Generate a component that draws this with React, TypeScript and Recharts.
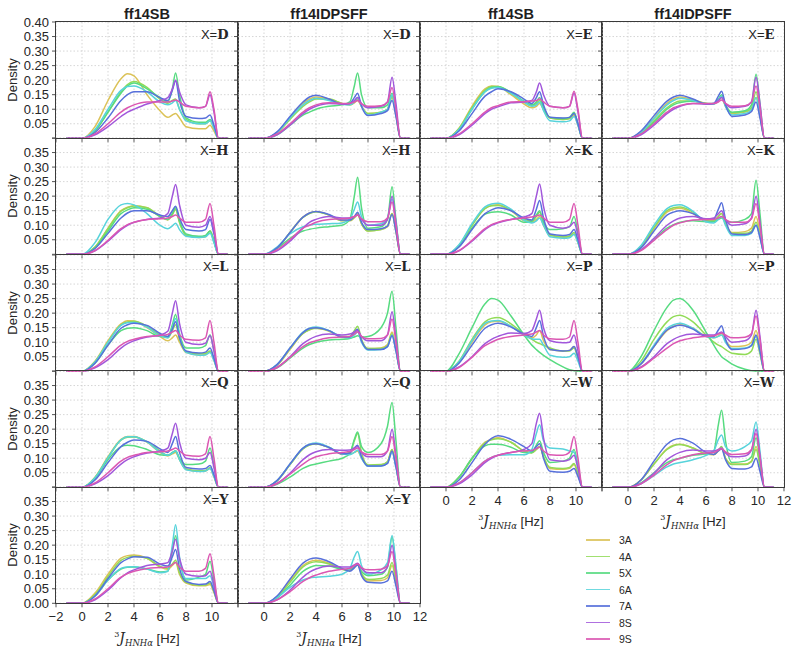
import React from 'react';
import { LineChart, Line, XAxis, YAxis, CartesianGrid } from 'recharts';

// ---------------------------------------------------------------------------
// Data: density of 3J(HNHa) sampled on a shared J grid (Hz)
// ---------------------------------------------------------------------------

const J_GRID = [-1.2, 0, 1, 2, 3, 3.5, 4, 5, 6, 6.6, 6.95, 7.2, 7.5, 8, 9, 9.5, 9.85, 10.15, 10.5, 11.2];

const SYSTEMS = ['3A', '4A', '5X', '6A', '7A', '8S', '9S'];
const SYSTEM_COLORS = ['#dbc257', '#91db57', '#57db80', '#57d3db', '#5770db', '#a157db', '#db57b2'];
const FORCE_FIELDS = ['ff14SB', 'ff14IDPSFF', 'ff14SB', 'ff14IDPSFF'];

const X_TICKS = [-2, 0, 2, 4, 6, 8, 10, 12];
const Y_TICKS = [0, 0.05, 0.1, 0.15, 0.2, 0.25, 0.3, 0.35, 0.4];

// one row per system, in SYSTEMS order
const SB_D = [
  [0, 0, .04, .13, .205, .222, .215, .15, .095, .072, .08, .085, .07, .04, .033, .033, .045, .025, 0, 0],
  [0, 0, .025, .09, .16, .185, .195, .175, .135, .12, .13, .135, .1, .065, .05, .05, .06, .035, 0, 0],
  [0, 0, .025, .09, .155, .18, .19, .17, .14, .125, .17, .225, .15, .07, .055, .055, .065, .04, 0, 0],
  [0, 0, .03, .1, .165, .178, .18, .16, .125, .115, .122, .13, .1, .06, .05, .05, .06, .035, 0, 0],
  [0, 0, .02, .07, .13, .15, .16, .16, .14, .13, .165, .198, .13, .075, .068, .07, .08, .045, 0, 0],
  [0, 0, .012, .04, .075, .09, .1, .118, .13, .14, .17, .2, .16, .115, .105, .11, .15, .09, 0, 0],
  [0, 0, .015, .05, .09, .105, .115, .125, .125, .125, .128, .132, .125, .11, .105, .11, .16, .1, 0, 0],
];
const IDP_D = [
  [0, 0, .02, .07, .12, .135, .142, .135, .12, .115, .122, .13, .11, .085, .09, .1, .14, .08, 0, 0],
  [0, 0, .018, .065, .11, .125, .135, .135, .12, .115, .125, .135, .11, .085, .09, .1, .145, .085, 0, 0],
  [0, 0, .012, .045, .08, .09, .1, .11, .115, .125, .18, .225, .15, .105, .105, .115, .155, .09, 0, 0],
  [0, 0, .02, .07, .115, .13, .138, .13, .117, .115, .125, .14, .11, .08, .09, .1, .15, .085, 0, 0],
  [0, 0, .022, .075, .125, .142, .148, .135, .118, .12, .14, .155, .11, .078, .085, .095, .13, .075, 0, 0],
  [0, 0, .012, .045, .085, .1, .11, .12, .118, .12, .13, .14, .12, .105, .11, .125, .21, .12, 0, 0],
  [0, 0, .015, .05, .09, .105, .115, .122, .12, .12, .125, .13, .118, .11, .112, .125, .175, .1, 0, 0],
];
const SB_E = [
  [0, 0, .035, .11, .17, .18, .178, .15, .118, .105, .11, .12, .1, .07, .065, .068, .08, .045, 0, 0],
  [0, 0, .033, .105, .165, .178, .178, .155, .125, .112, .12, .13, .1, .07, .065, .068, .085, .05, 0, 0],
  [0, 0, .03, .1, .16, .175, .177, .158, .128, .115, .125, .14, .105, .072, .068, .072, .09, .05, 0, 0],
  [0, 0, .03, .1, .16, .172, .175, .155, .125, .11, .115, .125, .095, .06, .057, .06, .075, .045, 0, 0],
  [0, 0, .025, .085, .145, .16, .17, .16, .135, .12, .14, .16, .115, .072, .07, .072, .085, .05, 0, 0],
  [0, 0, .012, .045, .085, .1, .108, .122, .125, .13, .16, .19, .15, .11, .105, .11, .155, .09, 0, 0],
  [0, 0, .015, .05, .09, .105, .112, .125, .126, .128, .13, .135, .125, .11, .105, .11, .162, .1, 0, 0],
];
const IDP_E = [
  [0, 0, .022, .07, .12, .135, .142, .133, .12, .118, .13, .14, .11, .085, .09, .1, .14, .08, 0, 0],
  [0, 0, .018, .06, .105, .12, .128, .128, .12, .118, .13, .142, .112, .088, .092, .105, .16, .09, 0, 0],
  [0, 0, .015, .055, .1, .115, .123, .127, .12, .12, .135, .15, .115, .09, .095, .115, .22, .12, 0, 0],
  [0, 0, .02, .068, .115, .13, .138, .13, .118, .117, .132, .145, .11, .08, .085, .097, .14, .08, 0, 0],
  [0, 0, .025, .078, .128, .142, .148, .135, .118, .12, .145, .162, .115, .075, .08, .092, .125, .07, 0, 0],
  [0, 0, .012, .045, .085, .1, .11, .12, .118, .12, .13, .14, .12, .105, .11, .125, .21, .12, 0, 0],
  [0, 0, .015, .05, .09, .105, .113, .12, .12, .12, .125, .132, .12, .11, .112, .125, .18, .105, 0, 0],
];
const SB_H = [
  [0, 0, .025, .09, .15, .162, .167, .16, .13, .118, .135, .155, .11, .065, .058, .06, .08, .045, 0, 0],
  [0, 0, .025, .088, .148, .16, .166, .16, .132, .12, .138, .155, .11, .065, .06, .062, .08, .045, 0, 0],
  [0, 0, .022, .08, .14, .153, .16, .155, .13, .12, .14, .16, .115, .07, .062, .065, .08, .045, 0, 0],
  [0, 0, .04, .12, .17, .175, .17, .14, .1, .088, .098, .107, .085, .062, .058, .06, .072, .04, 0, 0],
  [0, 0, .02, .072, .125, .142, .15, .15, .135, .13, .15, .165, .125, .085, .08, .085, .12, .07, 0, 0],
  [0, 0, .012, .045, .085, .1, .11, .12, .125, .14, .2, .24, .17, .1, .093, .1, .13, .08, 0, 0],
  [0, 0, .013, .048, .088, .102, .11, .12, .122, .125, .13, .135, .125, .11, .11, .12, .175, .1, 0, 0],
];
const IDP_H = [
  [0, 0, .02, .075, .128, .142, .147, .135, .115, .115, .125, .135, .105, .08, .085, .095, .14, .08, 0, 0],
  [0, 0, .02, .075, .127, .14, .146, .135, .116, .116, .128, .14, .105, .08, .085, .097, .14, .08, 0, 0],
  [0, 0, .02, .055, .08, .086, .09, .095, .1, .12, .2, .265, .16, .09, .095, .12, .232, .12, 0, 0],
  [0, 0, .025, .07, .095, .1, .103, .105, .108, .12, .155, .18, .13, .1, .105, .125, .19, .11, 0, 0],
  [0, 0, .022, .075, .128, .142, .147, .137, .118, .118, .13, .145, .11, .085, .088, .097, .137, .078, 0, 0],
  [0, 0, .012, .045, .09, .11, .12, .13, .125, .125, .13, .135, .12, .1, .1, .12, .2, .11, 0, 0],
  [0, 0, .015, .05, .09, .1, .11, .12, .122, .125, .13, .135, .122, .112, .112, .125, .18, .1, 0, 0],
];
const SB_K = [
  [0, 0, .03, .1, .158, .168, .17, .15, .115, .11, .12, .13, .1, .065, .058, .06, .07, .04, 0, 0],
  [0, 0, .03, .1, .157, .167, .168, .152, .12, .115, .13, .145, .105, .067, .06, .063, .075, .042, 0, 0],
  [0, 0, .027, .09, .138, .145, .146, .135, .11, .113, .135, .15, .11, .085, .088, .095, .13, .075, 0, 0],
  [0, 0, .033, .105, .163, .173, .176, .155, .117, .108, .115, .125, .1, .06, .055, .057, .068, .04, 0, 0],
  [0, 0, .025, .085, .14, .153, .16, .15, .125, .118, .155, .185, .125, .07, .065, .068, .085, .05, 0, 0],
  [0, 0, .012, .045, .085, .1, .108, .12, .128, .14, .2, .242, .165, .1, .09, .095, .11, .065, 0, 0],
  [0, 0, .013, .048, .088, .102, .11, .12, .125, .128, .132, .135, .125, .11, .11, .12, .175, .1, 0, 0],
];
const IDP_K = [
  [0, 0, .025, .088, .145, .155, .158, .14, .115, .115, .13, .14, .105, .075, .078, .09, .13, .075, 0, 0],
  [0, 0, .027, .092, .15, .16, .163, .145, .115, .115, .13, .14, .105, .072, .072, .08, .11, .065, 0, 0],
  [0, 0, .015, .05, .09, .102, .11, .115, .112, .112, .12, .125, .115, .11, .12, .14, .255, .14, 0, 0],
  [0, 0, .03, .1, .157, .168, .17, .148, .112, .108, .12, .13, .1, .065, .065, .072, .1, .06, 0, 0],
  [0, 0, .022, .08, .135, .145, .15, .14, .12, .122, .155, .177, .12, .07, .068, .075, .1, .058, 0, 0],
  [0, 0, .015, .055, .1, .115, .125, .13, .122, .125, .14, .15, .12, .1, .105, .125, .2, .11, 0, 0],
  [0, 0, .013, .048, .085, .1, .108, .118, .12, .12, .125, .13, .12, .11, .11, .122, .175, .1, 0, 0],
];
const SB_L = [
  [0, 0, .035, .105, .163, .174, .173, .15, .12, .105, .115, .125, .1, .065, .056, .058, .068, .038, 0, 0],
  [0, 0, .033, .1, .16, .17, .172, .155, .125, .115, .14, .16, .11, .068, .06, .062, .07, .04, 0, 0],
  [0, 0, .028, .09, .14, .148, .15, .14, .12, .12, .16, .195, .13, .08, .08, .088, .126, .07, 0, 0],
  [0, 0, .032, .1, .158, .167, .168, .152, .122, .115, .15, .182, .12, .065, .055, .056, .065, .037, 0, 0],
  [0, 0, .028, .09, .148, .16, .165, .158, .13, .12, .145, .17, .115, .07, .063, .066, .08, .045, 0, 0],
  [0, 0, .012, .04, .08, .095, .105, .118, .125, .138, .2, .243, .165, .1, .092, .097, .122, .07, 0, 0],
  [0, 0, .015, .05, .09, .103, .11, .12, .123, .127, .135, .14, .125, .11, .107, .115, .175, .1, 0, 0],
];
const IDP_L = [
  [0, 0, .02, .075, .13, .143, .148, .138, .117, .115, .128, .14, .105, .078, .08, .092, .135, .077, 0, 0],
  [0, 0, .022, .078, .13, .143, .148, .14, .12, .12, .14, .155, .11, .078, .078, .088, .13, .075, 0, 0],
  [0, 0, .012, .045, .08, .092, .1, .108, .11, .113, .118, .122, .118, .12, .15, .2, .275, .15, 0, 0],
  [0, 0, .023, .08, .135, .148, .152, .14, .118, .115, .125, .135, .1, .073, .075, .085, .125, .07, 0, 0],
  [0, 0, .023, .08, .133, .147, .15, .14, .118, .118, .135, .145, .105, .075, .075, .085, .122, .07, 0, 0],
  [0, 0, .013, .05, .095, .11, .12, .128, .125, .128, .135, .14, .12, .105, .105, .125, .205, .115, 0, 0],
  [0, 0, .013, .048, .085, .098, .105, .115, .118, .12, .128, .135, .12, .112, .113, .125, .18, .1, 0, 0],
];
const SB_P = [
  [0, 0, .03, .1, .16, .17, .172, .155, .125, .115, .125, .14, .105, .075, .07, .072, .085, .05, 0, 0],
  [0, 0, .035, .11, .17, .182, .185, .163, .128, .11, .1, .095, .09, .08, .07, .07, .08, .045, 0, 0],
  [0, 0, .06, .15, .232, .25, .245, .19, .125, .09, .075, .065, .055, .04, .015, .005, .002, 0, 0, 0],
  [0, 0, .033, .105, .165, .173, .175, .155, .125, .112, .11, .11, .09, .055, .048, .05, .062, .035, 0, 0],
  [0, 0, .028, .09, .148, .16, .165, .152, .128, .12, .15, .175, .12, .075, .07, .072, .085, .05, 0, 0],
  [0, 0, .015, .05, .095, .11, .12, .132, .13, .14, .18, .21, .15, .105, .098, .1, .125, .07, 0, 0],
  [0, 0, .013, .048, .088, .1, .11, .12, .125, .128, .135, .14, .125, .112, .11, .118, .175, .1, 0, 0],
];
const IDP_P = [
  [0, 0, .025, .085, .14, .155, .16, .148, .12, .115, .122, .13, .105, .085, .088, .1, .14, .08, 0, 0],
  [0, 0, .035, .11, .17, .188, .193, .17, .125, .1, .09, .085, .075, .062, .058, .07, .11, .06, 0, 0],
  [0, 0, .05, .14, .22, .245, .25, .21, .135, .09, .065, .05, .04, .025, .007, .002, 0, 0, 0, 0],
  [0, 0, .027, .09, .148, .16, .165, .148, .12, .115, .12, .125, .1, .078, .08, .09, .12, .07, 0, 0],
  [0, 0, .025, .085, .142, .153, .158, .145, .12, .12, .142, .157, .11, .075, .078, .088, .125, .07, 0, 0],
  [0, 0, .015, .05, .095, .11, .12, .128, .125, .125, .13, .135, .12, .1, .105, .125, .21, .12, 0, 0],
  [0, 0, .013, .045, .08, .095, .105, .115, .12, .122, .128, .132, .125, .115, .117, .13, .19, .11, 0, 0],
];
const SB_Q = [
  [0, 0, .035, .105, .165, .175, .175, .155, .12, .108, .115, .12, .095, .062, .055, .056, .065, .037, 0, 0],
  [0, 0, .033, .102, .162, .172, .173, .157, .125, .11, .118, .125, .098, .063, .057, .058, .067, .038, 0, 0],
  [0, 0, .03, .095, .14, .145, .143, .13, .112, .11, .12, .125, .1, .078, .08, .09, .135, .075, 0, 0],
  [0, 0, .033, .102, .163, .174, .174, .156, .122, .11, .118, .125, .095, .06, .054, .056, .065, .037, 0, 0],
  [0, 0, .025, .085, .14, .155, .163, .158, .132, .12, .15, .175, .12, .068, .063, .065, .075, .043, 0, 0],
  [0, 0, .012, .04, .08, .095, .105, .118, .125, .135, .185, .22, .155, .1, .095, .1, .12, .068, 0, 0],
  [0, 0, .015, .05, .09, .103, .11, .12, .122, .125, .13, .135, .125, .11, .107, .115, .175, .1, 0, 0],
];
const IDP_Q = [
  [0, 0, .022, .078, .133, .146, .15, .137, .115, .115, .12, .125, .1, .075, .077, .088, .13, .075, 0, 0],
  [0, 0, .022, .078, .132, .145, .149, .137, .115, .12, .16, .185, .12, .077, .078, .088, .13, .075, 0, 0],
  [0, 0, .01, .035, .065, .075, .08, .09, .1, .115, .165, .19, .14, .12, .15, .21, .292, .16, 0, 0],
  [0, 0, .023, .08, .135, .148, .152, .138, .115, .112, .12, .128, .1, .072, .073, .083, .12, .07, 0, 0],
  [0, 0, .023, .08, .135, .147, .15, .137, .115, .118, .135, .145, .105, .073, .073, .082, .125, .07, 0, 0],
  [0, 0, .013, .048, .095, .112, .122, .13, .127, .128, .135, .14, .12, .105, .105, .125, .2, .11, 0, 0],
  [0, 0, .013, .045, .08, .095, .105, .115, .12, .123, .13, .135, .122, .113, .113, .125, .175, .1, 0, 0],
];
const SB_W = [
  [0, 0, .035, .1, .155, .165, .17, .155, .125, .12, .13, .14, .105, .065, .062, .065, .078, .045, 0, 0],
  [0, 0, .033, .098, .153, .163, .167, .155, .125, .118, .13, .14, .105, .068, .065, .068, .082, .047, 0, 0],
  [0, 0, .035, .1, .143, .148, .148, .138, .12, .12, .145, .16, .12, .085, .09, .1, .13, .075, 0, 0],
  [0, 0, .015, .05, .09, .103, .11, .112, .112, .13, .185, .215, .16, .135, .132, .125, .12, .07, 0, 0],
  [0, 0, .025, .085, .148, .168, .177, .165, .14, .125, .14, .15, .1, .055, .052, .055, .065, .037, 0, 0],
  [0, 0, .012, .043, .085, .1, .11, .12, .13, .15, .22, .255, .17, .095, .09, .095, .11, .065, 0, 0],
  [0, 0, .015, .05, .09, .103, .11, .12, .125, .127, .133, .138, .125, .112, .11, .12, .175, .1, 0, 0],
];
const IDP_W = [
  [0, 0, .025, .08, .132, .145, .148, .135, .115, .112, .125, .135, .1, .08, .08, .09, .14, .08, 0, 0],
  [0, 0, .025, .08, .13, .143, .147, .135, .115, .113, .128, .14, .1, .078, .078, .088, .13, .075, 0, 0],
  [0, 0, .015, .05, .085, .095, .1, .11, .115, .125, .215, .265, .16, .085, .09, .105, .17, .095, 0, 0],
  [0, 0, .012, .04, .07, .08, .085, .095, .11, .125, .165, .18, .14, .125, .14, .16, .225, .125, 0, 0],
  [0, 0, .025, .09, .148, .163, .168, .152, .12, .113, .125, .132, .095, .065, .063, .07, .1, .055, 0, 0],
  [0, 0, .013, .048, .095, .11, .12, .128, .125, .125, .13, .135, .118, .105, .108, .128, .2, .11, 0, 0],
  [0, 0, .012, .042, .078, .092, .1, .112, .118, .12, .128, .133, .122, .113, .115, .13, .185, .105, 0, 0],
];
const SB_Y = [
  [0, 0, .035, .1, .155, .164, .166, .155, .125, .117, .13, .14, .1, .07, .06, .06, .065, .037, 0, 0],
  [0, 0, .03, .092, .148, .158, .162, .155, .127, .12, .135, .148, .105, .072, .062, .063, .07, .04, 0, 0],
  [0, 0, .025, .08, .118, .124, .125, .118, .108, .11, .18, .232, .15, .08, .09, .1, .145, .08, 0, 0],
  [0, 0, .025, .08, .12, .125, .126, .118, .105, .11, .2, .27, .16, .085, .085, .085, .095, .055, 0, 0],
  [0, 0, .025, .085, .14, .153, .16, .158, .135, .128, .16, .185, .12, .075, .065, .066, .075, .043, 0, 0],
  [0, 0, .012, .045, .088, .105, .115, .13, .135, .14, .18, .22, .155, .1, .093, .095, .11, .063, 0, 0],
  [0, 0, .015, .05, .09, .102, .11, .12, .123, .125, .133, .14, .125, .11, .11, .12, .17, .097, 0, 0],
];
const IDP_Y = [
  [0, 0, .022, .078, .13, .143, .148, .138, .117, .113, .125, .135, .1, .077, .078, .088, .13, .075, 0, 0],
  [0, 0, .02, .072, .125, .138, .143, .135, .117, .115, .125, .135, .103, .082, .085, .097, .14, .08, 0, 0],
  [0, 0, .018, .062, .11, .123, .13, .128, .117, .115, .125, .132, .11, .095, .1, .125, .228, .125, 0, 0],
  [0, 0, .02, .055, .08, .087, .09, .093, .1, .12, .16, .178, .13, .1, .115, .14, .233, .13, 0, 0],
  [0, 0, .025, .083, .138, .152, .156, .143, .12, .11, .122, .132, .095, .072, .07, .077, .11, .06, 0, 0],
  [0, 0, .012, .045, .09, .107, .118, .128, .125, .125, .132, .138, .12, .105, .105, .125, .2, .11, 0, 0],
  [0, 0, .012, .04, .075, .088, .097, .11, .117, .12, .13, .135, .123, .115, .117, .13, .178, .1, 0, 0],
];

const PANELS = [
  { row: 0, col: 0, residue: 'D', series: SB_D },
  { row: 0, col: 1, residue: 'D', series: IDP_D },
  { row: 0, col: 2, residue: 'E', series: SB_E },
  { row: 0, col: 3, residue: 'E', series: IDP_E },
  { row: 1, col: 0, residue: 'H', series: SB_H },
  { row: 1, col: 1, residue: 'H', series: IDP_H },
  { row: 1, col: 2, residue: 'K', series: SB_K },
  { row: 1, col: 3, residue: 'K', series: IDP_K },
  { row: 2, col: 0, residue: 'L', series: SB_L },
  { row: 2, col: 1, residue: 'L', series: IDP_L },
  { row: 2, col: 2, residue: 'P', series: SB_P },
  { row: 2, col: 3, residue: 'P', series: IDP_P },
  { row: 3, col: 0, residue: 'Q', series: SB_Q },
  { row: 3, col: 1, residue: 'Q', series: IDP_Q },
  { row: 3, col: 2, residue: 'W', series: SB_W },
  { row: 3, col: 3, residue: 'W', series: IDP_W },
  { row: 4, col: 0, residue: 'Y', series: SB_Y },
  { row: 4, col: 1, residue: 'Y', series: IDP_Y },
];

// ---------------------------------------------------------------------------
// Layout
// ---------------------------------------------------------------------------

const COL_X = [56, 238, 420, 602];
const ROW_Y = [22, 138.3, 254.6, 370.9, 487.2];
const PLOT_W = 182;
const PLOT_H = 116.3;
const PAD_T = 9; // room for the top tick label
const PAD_R = 12; // room for the "12" tick label

const SANS = '"Liberation Sans", Arial, sans-serif';
const SERIF = '"DejaVu Serif", "Liberation Serif", serif';
const TEXT = '#262626';

const isBottom = (row: number, col: number) => row === 4 || (row === 3 && col >= 2);

function xTickText(col: number, bottom: boolean) {
  return (v: number) => {
    if (!bottom) return '';
    if (v === -2 && col !== 0) return '';
    if (v === 12 && (col === 0 || col === 2)) return '';
    return v < 0 ? `\u2212${Math.abs(v)}` : String(v);
  };
}

function yTickText(row: number, col: number) {
  return (v: number) => {
    if (col !== 0) return '';
    if (v === 0 && row !== 4) return '';
    if (v > 0.39 && row !== 0) return '';
    return v.toFixed(2);
  };
}

// ---------------------------------------------------------------------------
// Panel
// ---------------------------------------------------------------------------

function Panel({ row, col, residue, series }: { row: number; col: number; residue: string; series: number[][] }) {
  const bottom = isBottom(row, col);
  const axW = col === 0 ? 56 : 6;
  const axH = bottom ? 30 : 6;
  const w = PLOT_W + axW + PAD_R;
  const h = PLOT_H + axH + PAD_T;
  const data = J_GRID.map((j, i) => {
    const d: Record<string, number> = { j };
    SYSTEMS.forEach((s, k) => {
      d[s] = series[k][i];
    });
    return d;
  });

  return (
    <div style={{ position: 'absolute', left: COL_X[col] - axW, top: ROW_Y[row] - PAD_T, width: w, height: h, pointerEvents: 'none' }}>
      <LineChart width={w} height={h} data={data} margin={{ top: PAD_T, right: PAD_R, bottom: 0, left: 0 }}>
        <CartesianGrid stroke="#cccccc" strokeWidth={0.8} strokeDasharray="1.5 2" />
        <XAxis
          type="number"
          dataKey="j"
          domain={[-2, 12]}
          ticks={X_TICKS}
          interval={0}
          height={axH}
          axisLine={false}
          tickSize={4}
          tickMargin={4}
          tickLine={{ stroke: '#555' }}
          tick={{ fontSize: 13, fill: TEXT, fontFamily: SANS }}
          tickFormatter={xTickText(col, bottom)}
        />
        <YAxis
          type="number"
          domain={[0, 0.4]}
          ticks={Y_TICKS}
          interval={0}
          width={axW}
          axisLine={false}
          tickSize={4}
          tickMargin={3}
          tickLine={{ stroke: '#555' }}
          tick={{ fontSize: 13, fill: TEXT, fontFamily: SANS }}
          tickFormatter={yTickText(row, col)}
        />
        {SYSTEMS.map((s, k) => (
          <Line
            key={s}
            type="monotone"
            dataKey={s}
            stroke={SYSTEM_COLORS[k]}
            strokeWidth={1.5}
            dot={false}
            isAnimationActive={false}
          />
        ))}
      </LineChart>
      <div
        style={{
          position: 'absolute',
          left: axW - 0.6,
          top: PAD_T - 0.6,
          width: PLOT_W + 1.2,
          height: PLOT_H + 1.2,
          border: '1.2px solid #3a3a3a',
          boxSizing: 'border-box',
        }}
      />
      <div
        style={{
          position: 'absolute',
          left: axW + PLOT_W - 9.5,
          top: PAD_T + 5.6,
          transform: 'translateX(-100%)',
          fontSize: 13,
          lineHeight: '13px',
          color: TEXT,
          whiteSpace: 'nowrap',
        }}
      >
        <span style={{ fontFamily: SANS }}>X=</span>
        <span style={{ fontFamily: SERIF, fontWeight: 'bold' }}>{residue}</span>
      </div>
    </div>
  );
}

function JLabel({ left, top }: { left: number; top: number }) {
  return (
    <div
      style={{
        position: 'absolute',
        left,
        top,
        transform: 'translateX(-50%)',
        whiteSpace: 'nowrap',
        fontFamily: SANS,
        fontSize: 13,
        lineHeight: '16px',
        color: TEXT,
      }}
    >
      <span style={{ fontFamily: SERIF, fontSize: 8, verticalAlign: 6 }}>3</span>
      <span style={{ fontFamily: SERIF, fontStyle: 'italic', fontSize: 14 }}>J</span>
      <span style={{ fontFamily: SERIF, fontStyle: 'italic', fontSize: 8.5, verticalAlign: -3 }}>HNHα</span>
      <span> [Hz]</span>
    </div>
  );
}

export default function App() {
  return (
    <div style={{ position: 'absolute', left: 0, top: 0, width: 800, height: 653, background: '#fff', fontFamily: SANS, overflow: 'hidden' }}>
      {FORCE_FIELDS.map((ff, c) => (
        <div
          key={c}
          style={{
            position: 'absolute',
            left: COL_X[c] + PLOT_W / 2,
            top: 6.5,
            transform: 'translateX(-50%)',
            fontSize: 14.5,
            lineHeight: '15px',
            fontWeight: 'bold',
            color: '#1e1e1e',
          }}
        >
          {ff}
        </div>
      ))}

      {ROW_Y.map((y, r) => (
        <div
          key={r}
          style={{
            position: 'absolute',
            left: 13,
            top: y + PLOT_H / 2,
            transform: 'translate(-50%, -50%) rotate(-90deg)',
            fontSize: 13,
            lineHeight: '14px',
            color: TEXT,
          }}
        >
          Density
        </div>
      ))}

      {PANELS.map((p) => (
        <Panel key={`${p.row}-${p.col}`} row={p.row} col={p.col} residue={p.residue} series={p.series} />
      ))}

      {PANELS.filter((p) => isBottom(p.row, p.col)).map((p) => (
        <JLabel key={`lab-${p.col}`} left={COL_X[p.col] + PLOT_W / 2} top={ROW_Y[p.row] + PLOT_H + 23} />
      ))}

      {SYSTEMS.map((s, k) => (
        <div key={s} style={{ position: 'absolute', left: 586, top: 540 + k * 16.5 - 6, height: 12, width: 60 }}>
          <div style={{ position: 'absolute', left: 0, top: 5.3, width: 24, height: 1.5, background: SYSTEM_COLORS[k], opacity: 0.85 }} />
          <div style={{ position: 'absolute', left: 33, top: 0, fontSize: 10.5, lineHeight: '12px', color: TEXT }}>{s}</div>
        </div>
      ))}
    </div>
  );
}
